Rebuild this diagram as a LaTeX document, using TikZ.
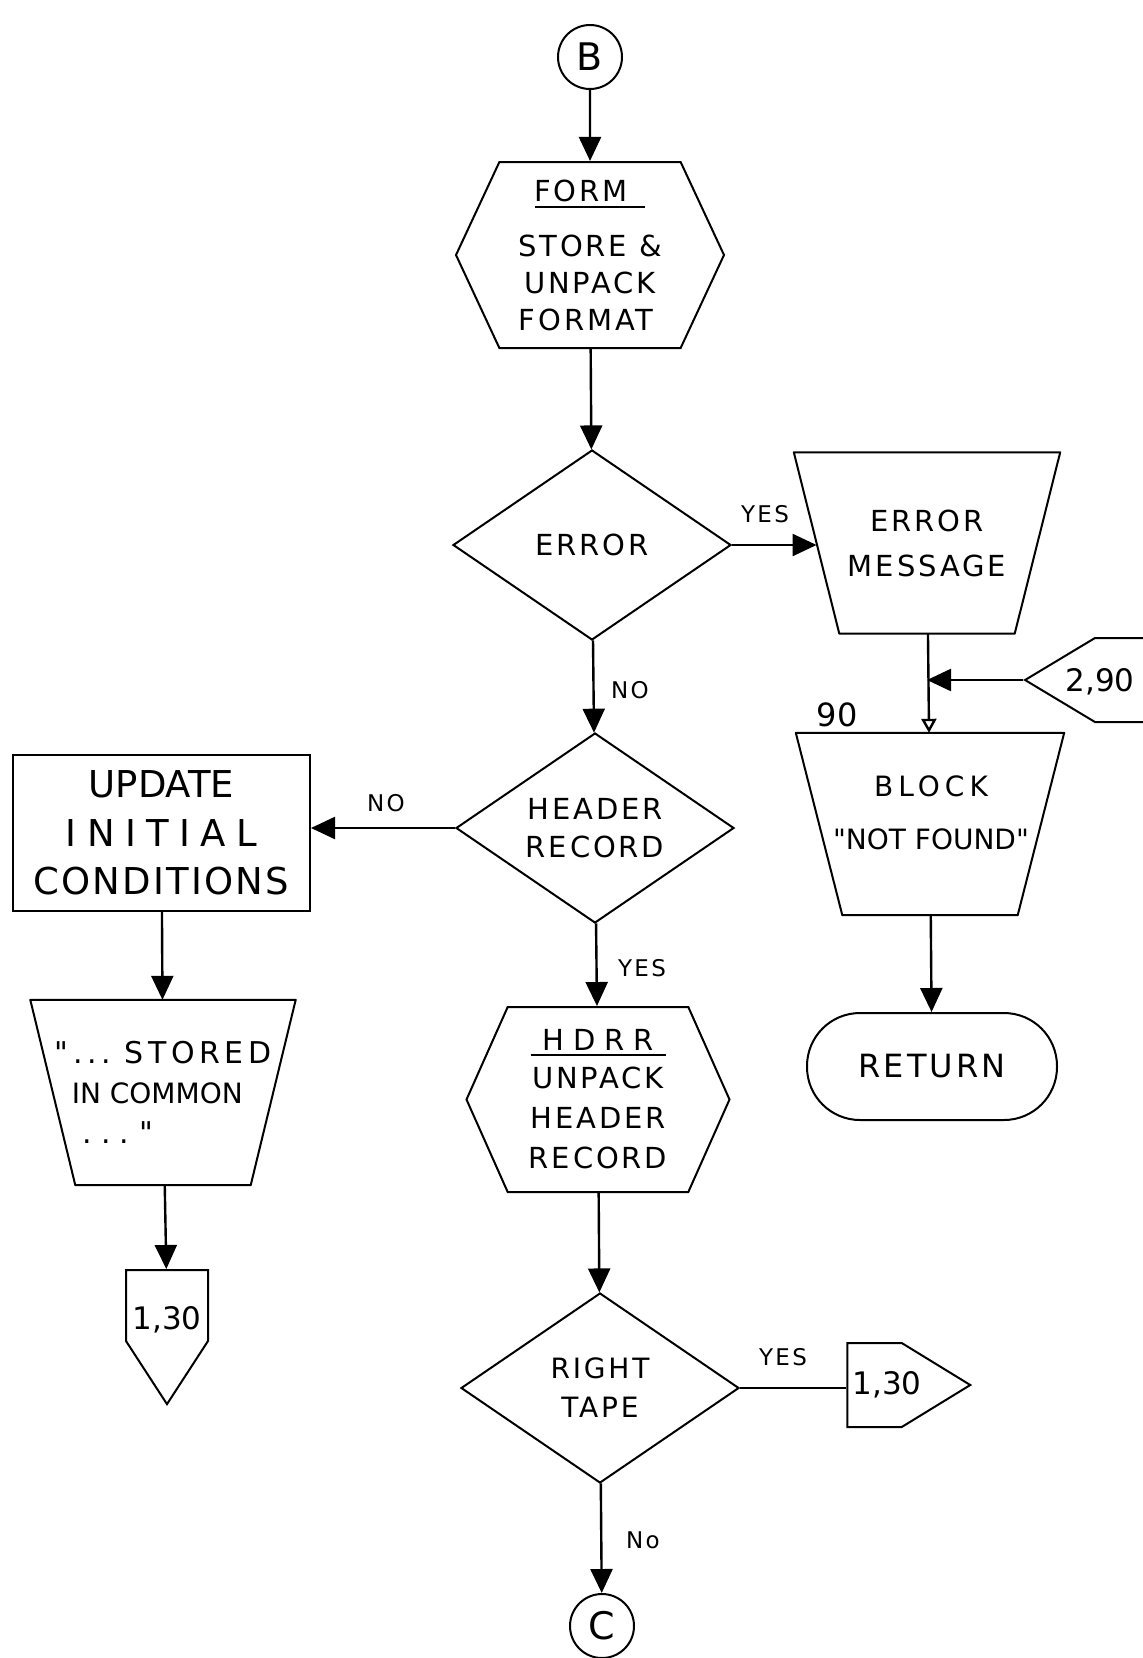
\documentclass[tikz,border=0pt]{standalone}
\usepackage{fontspec}
\newfontfamily\lf[LetterSpace=10]{DejaVu Sans}
\newfontfamily\lfn{DejaVu Sans}
\usetikzlibrary{shapes.geometric,shapes.symbols,arrows.meta}
\newcommand{\setfs}[2]{\fontsize{#1}{#2}\selectfont}
\begin{document}
\begin{tikzpicture}[x=1pt,y=-1pt,
  shp/.style={draw, line width=2pt, inner sep=0pt, align=center},
  outline/.style={line width=2pt, line join=round},
  circ/.style={shp, circle, minimum size=64pt, font=\lfn\setfs{38}{40}},
  hexbox/.style={shp, signal, signal to=west and east, signal pointer angle=130, font=\lf\setfs{29}{37}},
  decision/.style={shp, diamond, aspect=1.46, minimum width=278pt, minimum height=190pt, font=\lf\setfs{29}{38}},
  iobox/.style={inner sep=0pt, rectangle, align=center},
  procbox/.style={shp, rectangle},
  term/.style={shp, rectangle, rounded corners=53pt, minimum width=250pt, minimum height=107pt, font=\lf\setfs{32}{36}},
  offpage/.style={shp, signal},
  lbl/.style={inner sep=0pt, align=center, font=\lf\setfs{23}{25}},
  conn/.style={line width=2.4pt, -{Triangle[length=24pt,width=22pt]}},
  plain/.style={line width=2.4pt},
  smallarr/.style={line width=2.4pt, -{Triangle[open,length=14pt,width=15pt,line width=2.4pt]}}
]
\useasboundingbox (0,0) rectangle (1143,1658);

% main column
\node[circ] (B) at (590,57) {B};
\node[hexbox, minimum width=268pt, minimum height=186pt] (form) at (590,255)
  {FORM\hspace*{18pt}\\[-30pt]\rule{110pt}{1.8pt}\hspace*{18pt}\\[11pt]STORE \&\hspace*{18pt}\\UNPACK\hspace*{18pt}\\FORMAT\hspace*{8pt}};
\node[decision] (err) at (592,545) {ERROR};
\node[decision] (hdr) at (595,828) {HEADER\\RECORD};
\node[hexbox, signal pointer angle=132, minimum width=263pt, minimum height=185pt, font=\lf\setfs{29}{40}] (hdrr) at (598,1099.5)
  {{\addfontfeature{LetterSpace=30}HDRR}\\[-35pt]\rule{135pt}{1.8pt}\\[-7pt]UNPACK\\HEADER\\RECORD};
\node[decision, font=\lf\setfs{28}{39}] (rt) at (600,1388) {RIGHT\\TAPE};
\node[circ] (C) at (602,1626) {C};

% right column
\node[iobox, minimum width=266pt, minimum height=181pt, font=\lf\setfs{29}{45}] (emsg) at (927,543) {ERROR\\MESSAGE};
\draw[outline] (emsg.north west) -- (emsg.north east) -- ([xshift=-45.5pt]emsg.south east)
  -- ([xshift=45.5pt]emsg.south west) -- cycle;
\coordinate (emsgin) at ([xshift=22.75pt]emsg.west);
\node[offpage, signal to=west, signal pointer angle=62, minimum width=150pt, minimum height=84pt] (c290) at (1135,680) {};
\node[lbl, font=\lfn\setfs{31}{33}] (t290) at (1100,682) {2,90};
\node[lbl, font=\lfn\setfs{32}{34}] (t90) at (837,715) {90};
\node[iobox, minimum width=268pt, minimum height=182pt] (block) at (930,824) {};
\draw[outline] (block.north west) -- (block.north east) -- ([xshift=-46.5pt]block.south east)
  -- ([xshift=46.5pt]block.south west) -- cycle;
\node[lbl, font=\lfn\setfs{28}{53}] (tblock) at (931,813)
  {{\addfontfeature{LetterSpace=18}BLOCK}\\"NOT FOUND"};
\node[term] (ret) at (932,1066.5) {RETURN};
\node[offpage, signal to=east, signal pointer angle=63, minimum width=123pt, minimum height=84pt] (c130b) at (874.5,1385) {};
\node[lbl, font=\lfn\setfs{31}{33}] (t130b) at (887,1385) {1,30};

% left column
\node[procbox, minimum width=297pt, minimum height=156pt, font=\lfn\setfs{37}{48.5}] (upd) at (161.5,833)
  {UPDATE\\{\addfontfeature{LetterSpace=28}INITIAL}\\{\addfontfeature{LetterSpace=6}CONDITIONS}};
\node[iobox, minimum width=265pt, minimum height=185pt, font=\lf\setfs{30}{40}, align=left] (stored) at (163,1092.5)
  {{\addfontfeature{LetterSpace=15}"...\ STORED}\\\hspace*{17pt}{\lfn\setfs{28}{40}IN COMMON}\\\hspace*{28pt}.\hspace{9pt}.\hspace{9pt}.\hspace{10pt}"};
\draw[outline] (stored.north west) -- (stored.north east) -- ([xshift=-45pt]stored.south east)
  -- ([xshift=45pt]stored.south west) -- cycle;
\node[offpage, signal to=south, signal pointer angle=66, minimum width=82pt, minimum height=71pt] (c130a) at (167,1305.5) {};
\node[lbl, font=\lfn\setfs{31}{33}] (t130a) at (167,1320) {1,30};

% labels
\node[lbl] (yes1) at (765,514) {YES};
\node[lbl] (no1) at (630,690) {NO};
\node[lbl] (no2) at (386,803) {NO};
\node[lbl] (yes2) at (642,968) {YES};
\node[lbl] (yes3) at (783,1357) {YES};
\node[lbl] (no3) at (643,1540) {No};

% connectors
\draw[conn] (B) -- (form);
\draw[conn] (form) -- (err);
\draw[conn] (err.east) -- (err.east -| emsgin);
\draw[conn] (err) -- (hdr);
\draw[conn] (hdr.west) -- (hdr.west -| upd.east);
\draw[conn] (upd) -- (stored);
\draw[conn] (stored) -- (c130a);
\draw[conn] (hdr) -- (hdrr);
\draw[conn] (hdrr) -- (rt);
\draw[plain] (rt.east) -- (rt.east -| c130b.west);
\draw[conn] (rt) -- (C);
\draw[smallarr] (emsg) -- (block);
\coordinate (join) at (emsg.south |- c290.west);
\draw[conn] (c290.west) -- (join);
\draw[conn] (block) -- (ret);
\end{tikzpicture}
\end{document}
